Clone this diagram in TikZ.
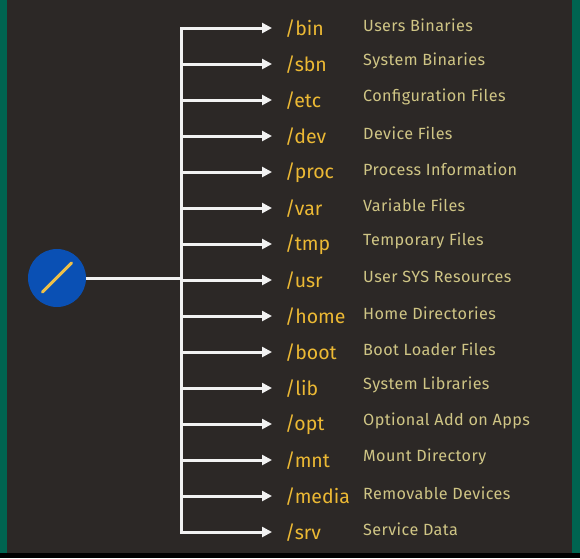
\documentclass[tikz,border=0pt]{standalone}
\usepackage{fontspec}
\setmainfont{Fira Sans}
\newfontfamily\descfont[LetterSpace=2.5]{Fira Sans}
\usetikzlibrary{arrows.meta}
\definecolor{bgdark}{HTML}{2C2826}
\definecolor{edge}{HTML}{006450}
\definecolor{rootblue}{HTML}{0A50B4}
\definecolor{dirgold}{HTML}{ECB934}
\definecolor{desckhaki}{HTML}{CFC585}
\definecolor{linewhite}{HTML}{F2F2F2}
\tikzset{
  branch/.style={draw=linewhite, line width=3pt, -{Triangle[length=10pt,width=10pt]}},
  trunk/.style={draw=linewhite, line width=3pt},
  dirlabel/.style={anchor=west, text=dirgold, font=\fontsize{19.5}{20}\selectfont, inner sep=0pt},
  desclabel/.style={anchor=west, text=desckhaki, font=\descfont\fontsize{16.2}{17}\selectfont, inner sep=0pt},
}
\begin{document}
\begin{tikzpicture}[x=1pt,y=-1pt]
  % background and coloured edges
  \fill[bgdark] (0,0) rectangle (580,558);
  \useasboundingbox (0,0) rectangle (580,558);
  \fill[edge] (0,0) rectangle (7,558);
  \fill[edge] (572,0) rectangle (580,558);
  \fill[black] (0,553) rectangle (580,558);

  % root node
  \node[circle, fill=rootblue, minimum size=58pt, inner sep=0pt] (root) at (57,278) {};
  \draw[dirgold!90!white, line width=3pt, line cap=round] (42.5,292) -- (71.5,263);

  % trunk
  \coordinate (tjoin) at (181,278);
  \coordinate (ttop) at (181,28);
  \coordinate (tbot) at (181,532);
  \draw[trunk] (root.east) -- (tjoin);
  \draw[trunk, line cap=rect] (ttop) -- (tbot);

  % directories
  \foreach \d/\t [count=\i from 0] in {
      bin/Users Binaries,
      sbn/System Binaries,
      etc/Configuration Files,
      dev/Device Files,
      proc/Process Information,
      var/Variable Files,
      tmp/Temporary Files,
      usr/User SYS Resources,
      home/Home Directories,
      boot/Boot Loader Files,
      lib/System Libraries,
      opt/Optional Add on Apps,
      mnt/Mount Directory,
      media/Removable Devices,
      srv/Service Data} {
    \pgfmathsetmacro{\yy}{28+36*\i}
    \coordinate (s\i) at (181,\yy);
    \coordinate (e\i) at (272,\yy);
    \node[dirlabel] (d\i) at (285,\yy+1) {/\d};
    \node[desclabel] (n\i) at (363,\yy-3) {\t};
    \draw[branch] (s\i) -- (e\i);
  }
\end{tikzpicture}
\end{document}
